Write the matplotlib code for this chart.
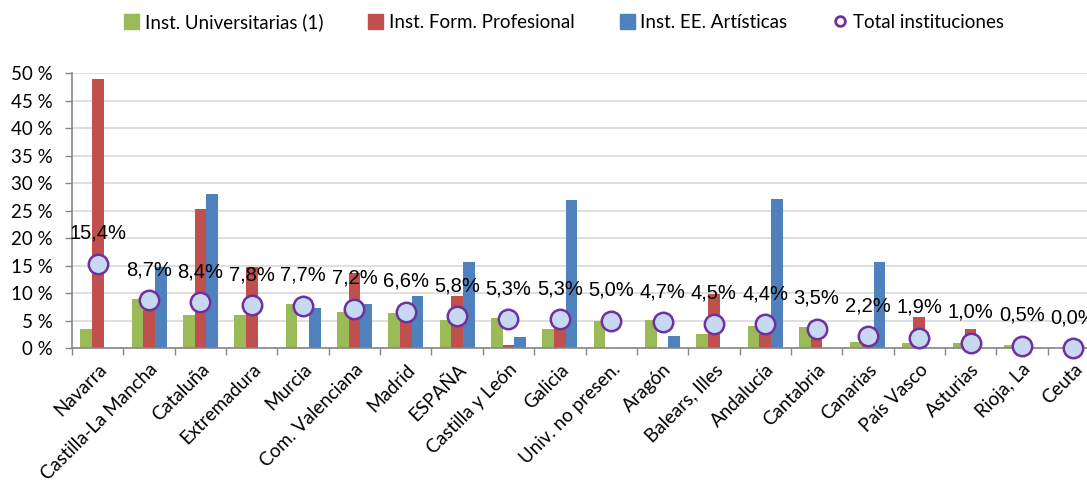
import matplotlib
matplotlib.use("Agg")
import matplotlib.pyplot as plt
import numpy as np
from matplotlib.patches import Patch
from matplotlib.lines import Line2D

categories = ["Navarra", "Castilla-La Mancha", "Cataluña", "Extremadura", "Murcia",
              "Com. Valenciana", "Madrid", "ESPAÑA", "Castilla y León", "Galicia",
              "Univ. no presen.", "Aragón", "Balears, Illes", "Andalucía", "Cantabria",
              "Canarias", "País Vasco", "Asturias", "Rioja, La", "Ceuta"]
universitarias = [3.5, 9.0, 6.1, 6.1, 8.1, 6.6, 6.4, 5.2, 5.5, 3.5,
                  4.9, 5.2, 2.65, 4.1, 3.8, 1.2, 0.9, 0.9, 0.6, 0.0]
form_prof = [48.9, 7.0, 25.4, 14.7, 0.0, 13.6, 7.0, 9.5, 0.6, 4.5,
             0.0, 0.0, 9.9, 2.65, 3.0, 1.0, 5.6, 3.55, 0.0, 0.0]
artisticas = [0.0, 14.7, 28.1, 0.0, 7.3, 8.1, 9.5, 15.6, 2.0, 26.9,
              0.0, 2.3, 0.0, 27.2, 0.0, 15.6, 0.0, 0.0, 0.0, 0.0]
total = [15.4, 8.7, 8.4, 7.8, 7.7, 7.2, 6.6, 5.8, 5.3, 5.3,
         5.0, 4.7, 4.5, 4.4, 3.5, 2.2, 1.9, 1.0, 0.5, 0.0]
series_names = ["Inst. Universitarias (1)", "Inst. Form. Profesional",
                "Inst. EE. Artísticas", "Total instituciones"]
yticks = [0, 5, 10, 15, 20, 25, 30, 35, 40, 45, 50]

GREEN, RED, BLUE = "#9BBB59", "#C0504D", "#4F81BD"
CFILL, CEDGE = "#C6D9F1", "#7030A0"

fig = plt.figure(figsize=(10.87, 4.86), dpi=100)
ax = fig.add_axes([72/1087, 137.7/486, 1027/1087, 275/486])

x = np.arange(len(categories))
w = 0.227
ax.bar(x - w, universitarias, w, color=GREEN, zorder=2)
ax.bar(x, form_prof, w, color=RED, zorder=2)
ax.bar(x + w, artisticas, w, color=BLUE, zorder=2)
ax.plot(x, total, 'o', ms=14, mfc=CFILL, mec=CEDGE, mew=1.8, zorder=4, clip_on=False)

for xi, v in zip(x, total):
    ax.annotate(f"{v:.1f}%".replace('.', ','), (xi, v), xytext=(0, 22),
                textcoords='offset points', ha='center', va='center',
                fontsize=14.5, family='Liberation Sans', color='black', zorder=5)

ax.set_xlim(-0.5, len(categories) - 0.5)
ax.set_ylim(0, 50)
ax.set_yticks(yticks)
ax.set_yticklabels([f"{t} %" for t in yticks], family='Lato', fontsize=13.5)
ax.yaxis.grid(True, color='#D9D9D9', lw=1.2, zorder=0)
ax.set_axisbelow(True)

ax.set_xticks(x)
ax.set_xticklabels(categories, rotation=45, ha='right', rotation_mode='anchor',
                   family='Lato', fontsize=13.5)
ax.set_xticks(np.arange(len(categories) + 1) - 0.5, minor=True)
ax.tick_params(axis='x', which='major', length=0, pad=9)
ax.tick_params(axis='x', which='minor', length=5, color='#868686', width=1)
ax.tick_params(axis='y', length=5, color='#868686', width=1, pad=9)

for s in ['top', 'right']:
    ax.spines[s].set_visible(False)
for s in ['left', 'bottom']:
    ax.spines[s].set_color('#868686')
    ax.spines[s].set_linewidth(1.2)

handles = [Patch(color=GREEN), Patch(color=RED), Patch(color=BLUE),
           Line2D([], [], marker='o', ls='', ms=7, mfc='white', mec=CEDGE, mew=2)]
fig.legend(handles, series_names, loc='center', bbox_to_anchor=(0.519, 1 - 22/486),
           ncol=4, frameon=False, prop={'family': 'Lato', 'size': 13.5},
           handlelength=0.8, handleheight=0.8, handletextpad=0.3, columnspacing=2.4)

fig.savefig("out.png", dpi=100)
